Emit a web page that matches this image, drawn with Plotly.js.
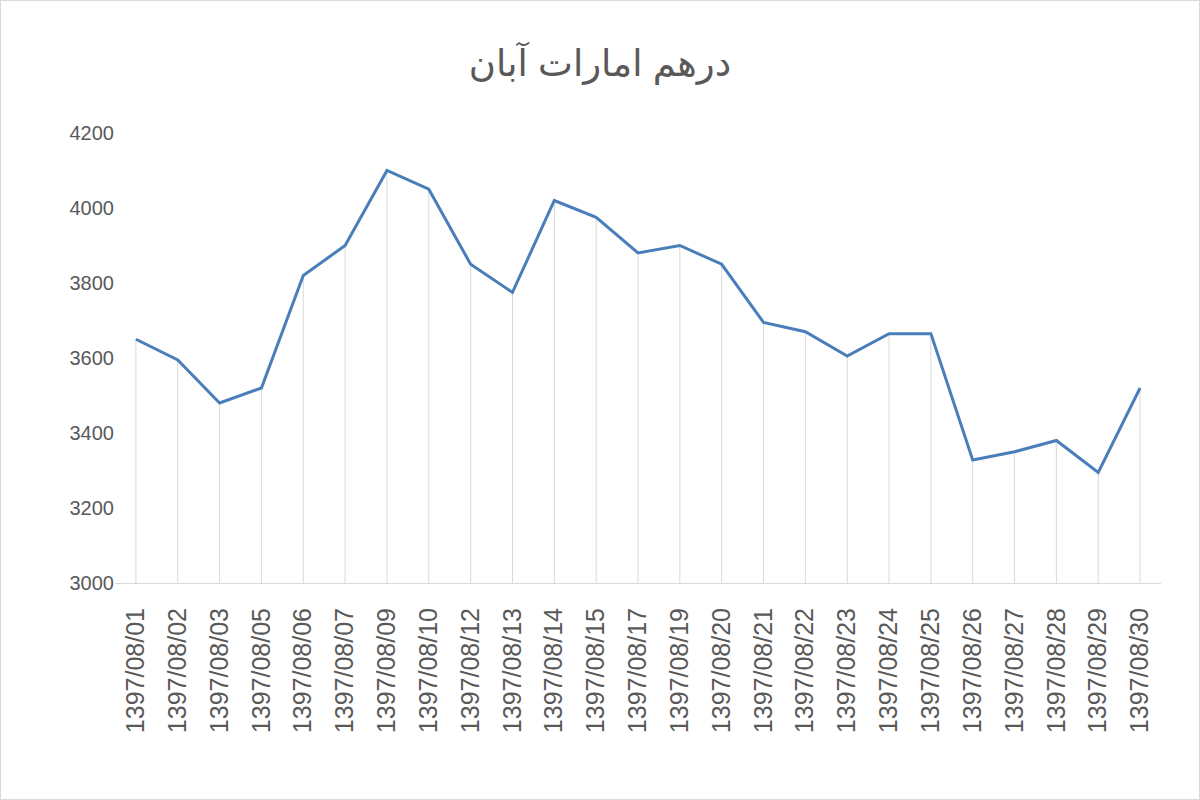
<!DOCTYPE html>
<html>
<head>
<meta charset="utf-8">
<script src="https://cdn.plot.ly/plotly-3.0.1.min.js"></script>
<style>
body{margin:0;background:#fff;}
#chart{width:1200px;height:800px;box-sizing:border-box;border:1px solid #d9d9d9;}
</style>
</head>
<body>
<div id="chart"></div>
<script>
const dates = ["1397/08/01","1397/08/02","1397/08/03","1397/08/05","1397/08/06","1397/08/07","1397/08/09","1397/08/10","1397/08/12","1397/08/13","1397/08/14","1397/08/15","1397/08/17","1397/08/19","1397/08/20","1397/08/21","1397/08/22","1397/08/23","1397/08/24","1397/08/25","1397/08/26","1397/08/27","1397/08/28","1397/08/29","1397/08/30"];
const prices = [3650,3595,3480,3520,3820,3900,4100,4050,3850,3775,4020,3975,3880,3900,3850,3695,3670,3605,3665,3665,3328,3350,3380,3295,3520];
const axisMin = 3000;
const axisMax = 4200;
const yTicks = [3000,3200,3400,3600,3800,4000,4200];
const chartTitle = "درهم امارات آبان";

const dropLines = {
  x: dates, y: prices, type: 'scatter', mode: 'markers',
  marker: {size: 1, opacity: 0},
  error_y: {type: 'data', symmetric: false, array: prices.map(() => 0),
            arrayminus: prices.map(v => v - axisMin), width: 0, thickness: 1, color: '#d9d9d9'},
  hoverinfo: 'skip', showlegend: false
};
const line = {
  x: dates, y: prices, type: 'scatter', mode: 'lines',
  line: {color: '#4a7ebb', width: 3}, showlegend: false
};

const layout = {
  width: 1198, height: 798,
  margin: {l: 114, r: 38, t: 132, b: 216},
  paper_bgcolor: '#fff', plot_bgcolor: 'rgba(0,0,0,0)',
  title: {text: chartTitle, x: 0.5, xanchor: 'center', y: 0.922, yanchor: 'middle',
          font: {family: 'Arial, "DejaVu Sans", sans-serif', size: 37, color: '#595959'}},
  xaxis: {type: 'category', range: [-0.5, dates.length - 0.5], tickangle: -90,
          showgrid: false, zeroline: false, showline: true, linecolor: '#d9d9d9', linewidth: 1,
          ticks: '', ticklabelstandoff: 14,
          tickfont: {family: 'Arial, "Liberation Sans", sans-serif', size: 25, color: '#595959'}},
  yaxis: {range: [axisMin, axisMax], tickvals: yTicks, showgrid: false, zeroline: false,
          showline: false, ticks: '', ticklen: 0,
          tickfont: {family: 'Arial, "Liberation Sans", sans-serif', size: 20, color: '#595959'}}
};
Plotly.newPlot('chart', [dropLines, line], layout, {displayModeBar: false, staticPlot: true});
</script>
</body>
</html>
